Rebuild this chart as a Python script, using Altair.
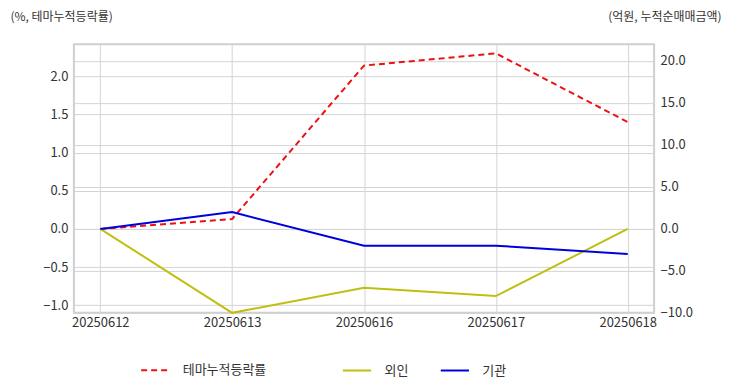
import altair as alt
import pandas as pd

dates = ["20250612", "20250613", "20250616", "20250617", "20250618"]
theme_pct = [0.0, 0.13, 2.14, 2.30, 1.40]
foreign_amt = [0.0, -10.0, -7.0, -8.0, 0.0]
inst_amt = [0.0, 2.0, -2.0, -2.0, -3.0]

theme_name = ["테마누적등락률"]
theme_color = ["#ee1111"]
theme_dash = [[6, 4]]
inv_names = ["외인", "기관"]
inv_colors = ["#bfbf10", "#0000dd"]

left_ticks = [-1.0, -0.5, 0.0, 0.5, 1.0, 1.5, 2.0]
right_ticks = [-10, -5, 0, 5, 10, 15, 20]

FONT = "Noto Sans CJK KR"

df_theme = pd.DataFrame({"date": dates, "value": theme_pct, "s1": theme_name[0]})
df_inv = pd.concat([
    pd.DataFrame({"date": dates, "value": foreign_amt, "s2": inv_names[0]}),
    pd.DataFrame({"date": dates, "value": inst_amt, "s2": inv_names[1]}),
])

x_enc = alt.X("date:O", scale=alt.Scale(type="point", padding=0.2),
              axis=alt.Axis(title=None, labelAngle=0, ticks=False, domain=False,
                            grid=True, gridColor="#d4d4d4", labelPadding=4))


def legend(x):
    return alt.Legend(title=None, orient="none", direction="horizontal",
                      legendX=x, legendY=311, symbolType="stroke",
                      symbolSize=800, symbolStrokeWidth=2,
                      labelFontSize=13, labelFont=FONT, labelColor="#333",
                      columnPadding=28, labelOffset=12)


left = alt.Chart(df_theme).mark_line(strokeWidth=2).encode(
    x=x_enc,
    y=alt.Y("value:Q", scale=alt.Scale(domain=[-1.1, 2.42], nice=False, zero=False),
            axis=alt.Axis(title="(%, 테마누적등락률)", values=left_ticks, format=".1f",
                          orient="left", ticks=False, domain=False, grid=True,
                          gridColor="#d4d4d4", labelPadding=6,
                          titleAngle=0, titleX=-64, titleY=-28, titleAlign="left",
                          titleBaseline="middle", titleFontWeight="normal")),
    color=alt.Color("s1:N", scale=alt.Scale(domain=theme_name, range=theme_color),
                    legend=legend(66)),
    strokeDash=alt.StrokeDash("s1:N", scale=alt.Scale(domain=theme_name, range=theme_dash),
                              legend=legend(66)),
)

right = alt.Chart(df_inv).mark_line(strokeWidth=2).encode(
    x=x_enc,
    y=alt.Y("value:Q", scale=alt.Scale(domain=[-10, 22], nice=False, zero=False),
            axis=alt.Axis(title="(억원, 누적순매매금액)", values=right_ticks, format=".1f",
                          orient="right", ticks=False, domain=False, grid=True,
                          gridColor="#d4d4d4", labelPadding=6,
                          titleAngle=0, titleX=67, titleY=-28, titleAlign="right",
                          titleBaseline="middle", titleFontWeight="normal")),
    color=alt.Color("s2:N", scale=alt.Scale(domain=inv_names, range=inv_colors),
                    legend=legend(268)),
)

chart = alt.layer(left, right).resolve_scale(
    y="independent", color="independent", strokeDash="independent"
).properties(
    width=581, height=269,
    autosize=alt.AutoSizeParams(type="none"),
    padding={"left": 66, "top": 36, "right": 70, "bottom": 76},
).configure_view(
    stroke="#cfcfcf", strokeWidth=2
).configure_axis(
    labelFont=FONT, labelFontSize=13, labelColor="#333",
    titleFont=FONT, titleFontSize=12, titleColor="#333",
)

chart.save("out.html", embed_options={"renderer": "svg", "actions": False})
